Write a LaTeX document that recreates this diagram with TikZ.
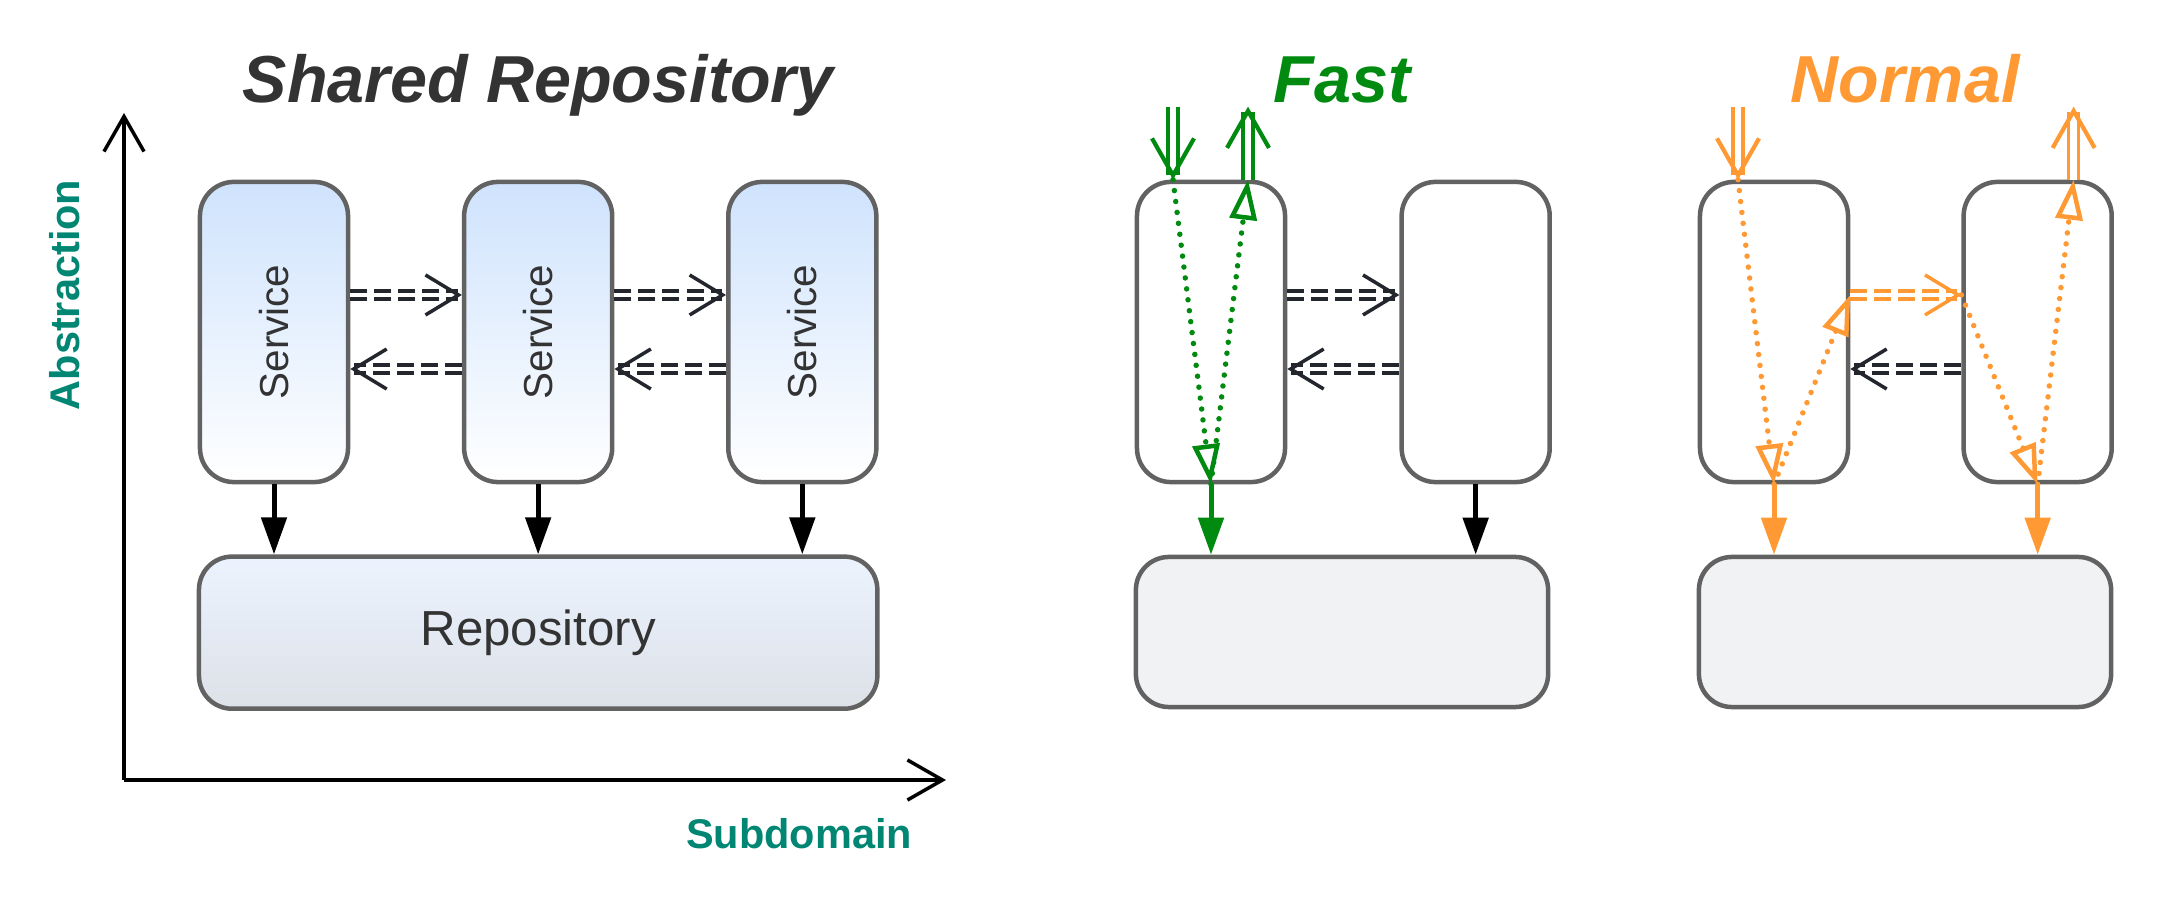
\documentclass[tikz,border=0pt]{standalone}
\usepackage{fontspec}
\setmainfont{Liberation Sans}
\usepackage{graphicx}
\usetikzlibrary{positioning, arrows.meta, calc}

\definecolor{boxgray}{HTML}{626262}
\definecolor{txtdark}{HTML}{333333}
\definecolor{svcblue}{HTML}{CFE3FD}
\definecolor{repotop}{HTML}{EBF3FE}
\definecolor{repobot}{HTML}{DDE1E8}
\definecolor{layerfill}{HTML}{F1F2F4}
\definecolor{callcol}{HTML}{23272D}
\definecolor{axcol}{HTML}{008672}
\definecolor{fastgreen}{HTML}{008A0F}
\definecolor{normorange}{HTML}{FF9933}

\begin{document}
\begin{tikzpicture}[
  x=0.01cm, y=0.01cm,
  svc/.style={draw=boxgray, line width=0.045cm, rounded corners=0.34cm,
              minimum width=1.48cm, minimum height=3cm, inner sep=0pt,
              text=txtdark, font=\fontsize{11.5}{13}\selectfont},
  bluesvc/.style={svc, top color=svcblue, bottom color=white},
  whitesvc/.style={svc, fill=white},
  repo/.style={draw=boxgray, line width=0.045cm, rounded corners=0.33cm,
              minimum width=6.78cm, minimum height=1.52cm,
              top color=repotop, bottom color=repobot,
              text=txtdark, font=\fontsize{14}{16}\selectfont},
  layer/.style={draw=boxgray, line width=0.045cm, rounded corners=0.33cm,
              minimum width=4.12cm, minimum height=1.5cm, fill=layerfill},
  ttl/.style={font=\fontsize{18.9}{22}\selectfont\bfseries\itshape, anchor=base},
  axlabel/.style={text=axcol, font=\fontsize{11.8}{14}\selectfont\bfseries},
  axis/.style={line width=0.038cm,
              -{Straight Barb[length=0.35cm, width=0.4cm, line width=0.035cm, sharp]}},
  calls/.style={draw=#1, line width=0.035cm, dash pattern=on 0pt off 200cm,
              -{Straight Barb[length=0.33cm, width=0.4cm, line width=0.035cm, sharp]},
              preaction={draw=#1, arrows=-, double, line width=0.035cm,
                double distance=0.045cm, dash pattern=on 0.17cm off 0.07cm,
                shorten >=0.04cm}},
  dep/.style={draw=#1, line width=0.05cm, -{Triangle[length=0.37cm, width=0.25cm]}},
  entry/.style={draw=#1, line width=0.035cm, dash pattern=on 0pt off 200cm,
              -{Straight Barb[length=0.37cm, width=0.42cm, line width=0.042cm, sharp]},
              preaction={draw=#1, arrows=-, double, line width=0.035cm,
                double distance=0.065cm, solid, shorten >=0.05cm}},
  trace/.style={draw=#1, line width=0.055cm, line cap=round,
              dash pattern=on 0pt off 0.11cm,
              -{Triangle[length=0.4cm, width=0.27cm, line width=0.045cm, fill=white]}}
 ]
\useasboundingbox (0,0) rectangle (2164,-904);

% axes
\coordinate (origin) at (124,-780);
\coordinate (ytip) at (124,-113);
\coordinate (xtip) at (946,-780);
\draw[axis] (origin) -- (ytip);
\draw[axis] (origin) -- (xtip);
\node[axlabel, rotate=90] (abstr) at (65,-295) {Abstraction};
\node[axlabel] (subdom) at (799,-834) {Subdomain};

% shared repository
\node[bluesvc] (s1) at (274,-332) {\rotatebox{90}{Service}};
\node[bluesvc, right=1.115cm of s1] (s2) {\rotatebox{90}{Service}};
\node[bluesvc, right=1.115cm of s2] (s3) {\rotatebox{90}{Service}};
\node[repo, below=0.7cm of s2] (repo) {Repository};
\node[ttl, text=txtdark] (ttlshared) at (repo.center |- 0,-103) {Shared Repository};
\draw[calls=callcol] ([yshift=0.37cm]s1.east) -- ([yshift=0.37cm]s2.west);
\draw[calls=callcol] ([yshift=-0.37cm]s2.west) -- ([yshift=-0.37cm]s1.east);
\draw[calls=callcol] ([yshift=0.37cm]s2.east) -- ([yshift=0.37cm]s3.west);
\draw[calls=callcol] ([yshift=-0.37cm]s3.west) -- ([yshift=-0.37cm]s2.east);
\draw[dep=black] (s1.south) -- (s1.south |- repo.north);
\draw[dep=black] (s2.south) -- (s2.south |- repo.north);
\draw[dep=black] (s3.south) -- (s3.south |- repo.north);

% fast
\node[whitesvc] (fa) at (1211,-332) {};
\node[whitesvc, right=1.12cm of fa] (fb) {};
\node[layer] (fl) at (1342,-632) {};
\node[ttl, text=fastgreen] (ttlfast) at (fl.center |- 0,-103) {Fast};
\coordinate (fin) at ($(fa.north)+(-38,0)$);
\coordinate (fintop) at ($(fin)+(0,73)$);
\coordinate (fout) at ($(fa.north)+(37,0)$);
\coordinate (fouttop) at ($(fout)+(0,73)$);
\draw[calls=callcol] ([yshift=0.37cm]fa.east) -- ([yshift=0.37cm]fb.west);
\draw[calls=callcol] ([yshift=-0.37cm]fb.west) -- ([yshift=-0.37cm]fa.east);
\draw[dep=black] (fb.south) -- (fb.south |- fl.north);
\draw[dep=fastgreen] (fa.south) -- (fa.south |- fl.north);
\draw[trace=fastgreen] (fa.south) -- (fout);
\draw[trace=fastgreen] (fin) -- (fa.south);
\draw[entry=fastgreen] (fintop) -- (fin);
\draw[entry=fastgreen] (fout) -- (fouttop);

% normal
\node[whitesvc] (nc) at (1774,-332) {};
\node[whitesvc, right=1.11cm of nc] (nd) {};
\node[layer] (nl) at (1905,-632) {};
\node[ttl, text=normorange] (ttlnormal) at (nl.center |- 0,-103) {Normal};
\coordinate (nin) at ($(nc.north)+(-36,0)$);
\coordinate (nintop) at ($(nin)+(0,73)$);
\coordinate (nout) at ($(nd.north)+(36,0)$);
\coordinate (nouttop) at ($(nout)+(0,73)$);
\draw[calls=normorange] ([yshift=0.37cm]nc.east) -- ([yshift=0.37cm]nd.west);
\draw[calls=callcol] ([yshift=-0.37cm]nd.west) -- ([yshift=-0.37cm]nc.east);
\draw[dep=normorange] (nc.south) -- (nc.south |- nl.north);
\draw[dep=normorange] (nd.south) -- (nd.south |- nl.north);
\draw[trace=normorange] (nc.south) -- ([yshift=0.37cm]nc.east);
\draw[trace=normorange] (nin) -- (nc.south);
\draw[trace=normorange] (nd.south) -- (nout);
\draw[trace=normorange] ([yshift=0.37cm]nd.west) -- (nd.south);
\draw[entry=normorange] (nintop) -- (nin);
\draw[entry=normorange] (nout) -- (nouttop);
\end{tikzpicture}
\end{document}
